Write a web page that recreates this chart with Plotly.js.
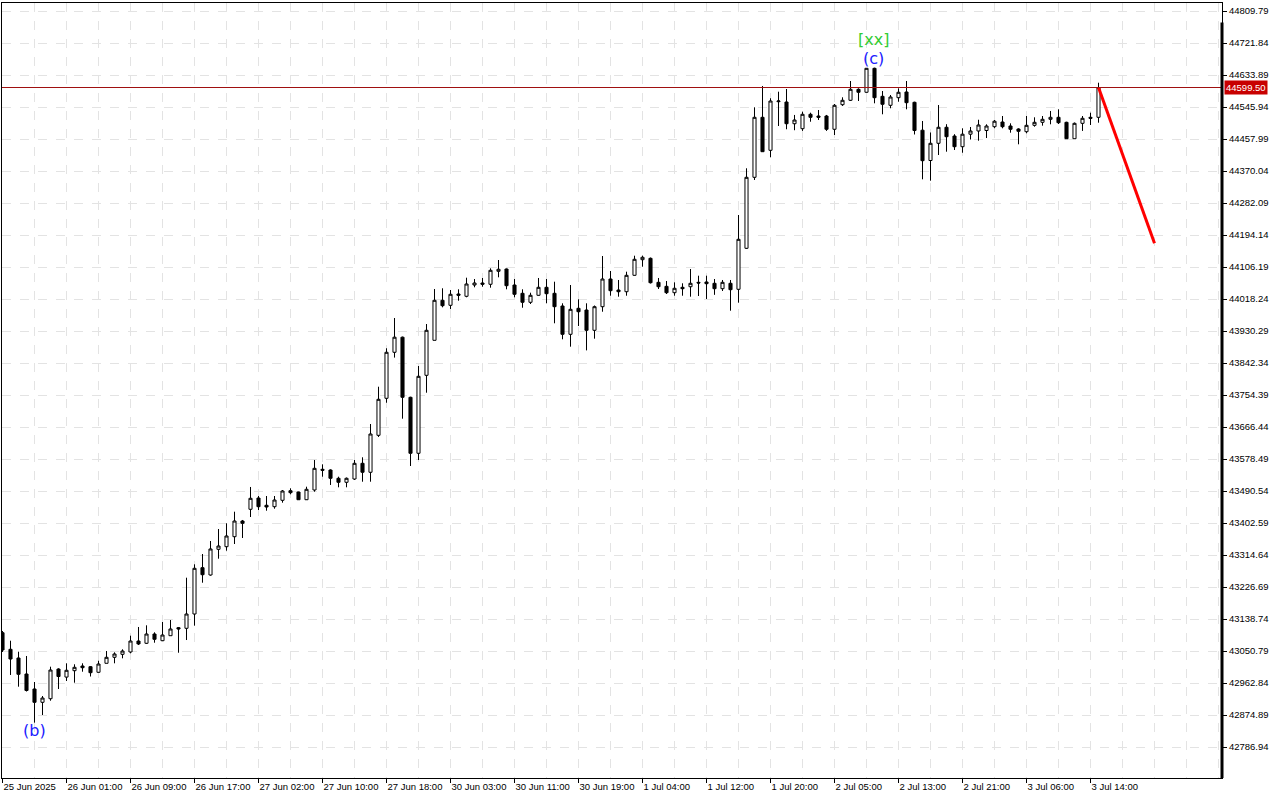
<!DOCTYPE html>
<html>
<head>
<meta charset="utf-8">
<script src="https://cdn.plot.ly/plotly-3.0.1.min.js"></script>
<style>
  html, body { margin: 0; padding: 0; background: #ffffff; }
  #chart { width: 1280px; height: 800px; }
</style>
</head>
<body>
<div id="chart"></div>
<script>
// Hourly candles, 25 Jun 2025 .. 3 Jul 2025 15:00
const open = [
  43101.1, 43055.5, 43031.6, 42987.6, 42946.4, 42909.8, 42919.7, 43001.3, 42979.1, 42996.7,
  43009.6, 43007.7, 42992.3, 43017.0, 43033.5, 43041.7, 43048.1, 43078.3, 43072.0, 43097.5,
  43079.1, 43092.9, 43114.9, 43113.2, 43152.5, 43279.8, 43259.7, 43330.3, 43337.5, 43365.0,
  43408.1, 43440.3, 43471.3, 43451.3, 43447.4, 43465.0, 43491.4, 43487.8, 43466.6, 43493.3,
  43550.2, 43548.3, 43525.5, 43514.5, 43523.5, 43566.7, 43542.0, 43643.6, 43745.3, 43871.8,
  43913.3, 43748.1, 43594.2, 43808.5, 43904.7, 44014.7, 44000.9, 44032.0, 44025.7, 44056.7,
  44062.2, 44058.7, 44094.4, 44100.7, 44056.7, 44033.9, 44009.2, 44028.4, 44050.4, 44033.9,
  43999.0, 43921.2, 43992.7, 43988.0, 43932.2, 43997.1, 44073.2, 44043.0, 44038.3, 44083.4,
  44126.3, 44130.1, 44064.1, 44053.1, 44035.6, 44050.4, 44052.0, 44064.1, 44065.0, 44061.4,
  44046.6, 44061.4, 44044.9, 44157.6, 44352.7, 44517.6, 44426.9, 44560.5, 44559.7, 44500.0,
  44486.3, 44525.9, 44521.2, 44521.2, 44484.7, 44552.3, 44564.4, 44594.6, 44586.4, 44652.3,
  44575.3, 44550.6, 44571.5, 44587.2, 44558.9, 44482.2, 44398.9, 44446.2, 44490.2, 44466.2,
  44436.8, 44471.2, 44480.0, 44481.4, 44491.8, 44504.7, 44493.7, 44485.5, 44478.1, 44495.6,
  44503.9, 44512.1, 44517.6, 44503.9, 44458.8, 44501.1, 44517.6, 44517.6
];
const high = [
  43105.8, 43079.1, 43048.9, 43037.1, 42965.6, 42927.1, 43007.7, 43003.3, 43017.0, 43014.3,
  43017.0, 43009.6, 43024.2, 43050.8, 43047.2, 43055.5, 43092.9, 43116.8, 43121.4, 43102.2,
  43130.5, 43136.0, 43116.8, 43252.3, 43289.1, 43317.4, 43353.1, 43386.1, 43401.8, 43433.7,
  43410.9, 43501.6, 43476.8, 43476.8, 43476.8, 43493.3, 43498.0, 43488.6, 43502.4, 43575.8,
  43563.9, 43550.2, 43529.9, 43527.7, 43575.8, 43583.2, 43674.7, 43777.2, 43882.8, 43966.0,
  43915.0, 43749.7, 43834.1, 43949.5, 44045.7, 44047.7, 44043.0, 44044.9, 44076.8, 44073.2,
  44076.0, 44102.6, 44125.4, 44102.0, 44073.2, 44044.9, 44035.6, 44076.0, 44073.2, 44065.8,
  44006.4, 44056.7, 44017.4, 44006.4, 44000.4, 44136.4, 44095.2, 44070.5, 44093.3, 44137.3,
  44137.3, 44132.3, 44076.0, 44067.7, 44064.1, 44061.4, 44100.7, 44082.3, 44082.3, 44073.2,
  44070.5, 44070.5, 44249.1, 44377.5, 44545.1, 44603.7, 44570.0, 44588.0, 44595.4, 44524.1,
  44533.0, 44530.3, 44537.7, 44524.1, 44554.2, 44572.6, 44617.4, 44597.3, 44653.1, 44654.0,
  44589.9, 44578.9, 44597.3, 44617.4, 44560.5, 44507.5, 44475.9, 44551.4, 44498.7, 44471.2,
  44487.4, 44491.0, 44511.0, 44498.4, 44510.2, 44521.2, 44501.1, 44487.4, 44521.2, 44517.6,
  44521.2, 44535.0, 44539.6, 44505.5, 44503.4, 44521.2, 44530.3, 44612.7
];
const low = [
  43048.1, 42984.9, 42952.7, 42939.5, 42853.8, 42874.9, 42914.2, 42946.4, 42968.4, 42963.7,
  42993.9, 42980.7, 42991.2, 43017.0, 43017.0, 43030.7, 43044.5, 43067.3, 43070.1, 43073.6,
  43078.3, 43092.9, 43046.1, 43081.0, 43120.4, 43238.5, 43257.8, 43304.5, 43326.5, 43344.9,
  43361.4, 43419.1, 43438.3, 43436.4, 43441.9, 43458.4, 43481.5, 43465.8, 43465.8, 43488.6,
  43529.9, 43507.1, 43500.7, 43500.7, 43520.8, 43516.1, 43516.1, 43639.0, 43733.2, 43857.2,
  43689.3, 43559.3, 43575.8, 43760.7, 43904.7, 43995.4, 43990.8, 44013.6, 44022.9, 44050.4,
  44052.0, 44049.3, 44077.9, 44044.9, 44022.9, 43994.3, 44004.5, 44027.3, 44006.4, 43951.5,
  43907.5, 43887.2, 43944.0, 43877.0, 43909.2, 43983.3, 44027.3, 44024.6, 44027.3, 44082.3,
  44107.0, 44060.8, 44045.7, 44032.0, 44027.3, 44027.3, 44024.6, 44026.5, 44018.3, 44029.7,
  44040.2, 43986.1, 44008.1, 44155.7, 44345.3, 44422.3, 44407.7, 44493.7, 44484.7, 44482.1,
  44480.2, 44505.5, 44510.2, 44480.2, 44469.0, 44548.8, 44562.4, 44562.4, 44585.3, 44556.1,
  44525.9, 44542.4, 44560.5, 44539.6, 44470.4, 44347.2, 44343.4, 44414.0, 44423.1, 44427.8,
  44420.3, 44456.6, 44453.3, 44460.7, 44487.4, 44487.4, 44475.3, 44443.4, 44473.7, 44491.8,
  44494.6, 44498.4, 44499.2, 44458.8, 44458.8, 44480.2, 44496.5, 44502.8
];
const close = [
  43053.6, 43028.8, 42986.8, 42942.3, 42909.8, 42921.6, 42998.6, 42980.7, 42997.8, 43006.0,
  43004.9, 42991.2, 43015.1, 43033.5, 43042.6, 43050.8, 43078.3, 43070.1, 43097.5, 43083.0,
  43094.8, 43111.3, 43111.3, 43152.5, 43278.1, 43260.5, 43331.2, 43339.4, 43366.9, 43408.1,
  43401.8, 43470.5, 43447.4, 43446.6, 43465.8, 43490.6, 43485.9, 43466.6, 43495.2, 43552.9,
  43547.5, 43525.5, 43514.5, 43525.5, 43566.7, 43542.0, 43647.2, 43742.6, 43871.8, 43913.3,
  43748.1, 43594.2, 43805.8, 43932.2, 44014.7, 43999.8, 44031.2, 44028.4, 44059.5, 44062.2,
  44058.7, 44097.1, 44099.9, 44054.8, 44031.2, 44009.2, 44028.4, 44050.4, 44032.8, 43997.1,
  43921.2, 43989.9, 43983.3, 43932.2, 43997.1, 44073.2, 44041.1, 44038.3, 44083.4, 44127.4,
  44132.9, 44063.0, 44052.0, 44035.6, 44047.7, 44046.6, 44061.4, 44062.2, 44060.3, 44046.6,
  44064.1, 44043.8, 44182.3, 44352.7, 44517.6, 44423.1, 44562.4, 44562.4, 44500.0, 44510.2,
  44525.9, 44517.6, 44517.6, 44484.7, 44550.6, 44564.4, 44594.6, 44586.4, 44652.3, 44571.5,
  44553.4, 44573.4, 44586.4, 44557.8, 44481.4, 44398.4, 44446.2, 44490.2, 44464.3, 44436.8,
  44471.2, 44480.0, 44496.5, 44493.7, 44506.9, 44491.8, 44484.7, 44479.2, 44495.6, 44503.9,
  44512.1, 44517.6, 44502.8, 44458.8, 44501.1, 44514.9, 44514.9, 44599.5
];

// Time-axis labels (bar index where each label sits)
const timeTickBars = [0, 8, 16, 24, 32, 40, 48, 56, 64, 72, 80, 88, 96, 104, 112, 120, 128, 136];
const timeTickLabels = [
  "25 Jun 2025", "26 Jun 01:00", "26 Jun 09:00", "26 Jun 17:00", "27 Jun 02:00", "27 Jun 10:00",
  "27 Jun 18:00", "30 Jun 03:00", "30 Jun 11:00", "30 Jun 19:00", "1 Jul 04:00", "1 Jul 12:00",
  "1 Jul 20:00", "2 Jul 05:00", "2 Jul 13:00", "2 Jul 21:00", "3 Jul 06:00", "3 Jul 14:00"
];

// Price-axis labels
const priceTicks = [
  42786.94, 42874.89, 42962.84, 43050.79, 43138.74, 43226.69, 43314.64, 43402.59,
  43490.54, 43578.49, 43666.44, 43754.39, 43842.34, 43930.29, 44018.24, 44106.19,
  44194.14, 44282.09, 44370.04, 44457.99, 44545.94, 44633.89, 44721.84, 44809.79
];

const lastPrice = 44599.50;

// Forecast line (red)
const forecastX = [137, 144];
const forecastY = [44599.5, 44171.4];

// Wave labels
const waveLabels = [
  { text: "(b)", bar: 4, price: 42831, color: "#2020ff" },
  { text: "(c)", bar: 108.85, price: 44677.9, color: "#2020ff" },
  { text: "[xx]", bar: 108.85, price: 44731.5, color: "#32cd32" }
];

const bars = open.map((_, i) => i);

const FONT = "Liberation Sans, Arial, sans-serif";

const traces = [
  {
    type: "candlestick",
    x: bars, open: open, high: high, low: low, close: close,
    increasing: { line: { color: "#000000", width: 1 }, fillcolor: "#ffffff" },
    decreasing: { line: { color: "#000000", width: 1 }, fillcolor: "#000000" },
    whiskerwidth: 0,
    hoverinfo: "none",
    showlegend: false
  },
  {
    type: "scatter", mode: "lines",
    x: forecastX, y: forecastY,
    line: { color: "#ff0000", width: 3 },
    hoverinfo: "none", showlegend: false
  }
];

const annotations = waveLabels.map(w => ({
  x: w.bar, y: w.price, xref: "x", yref: "y",
  text: w.text, showarrow: false,
  xanchor: "center", yanchor: "middle",
  font: { family: "DejaVu Sans, sans-serif", size: 16, color: w.color }
}));
annotations.push({
  x: 1, xref: "paper", xanchor: "left", xshift: 2,
  y: lastPrice, yref: "y", yanchor: "middle",
  text: lastPrice.toFixed(2), showarrow: false,
  bgcolor: "#c80000", borderpad: 1,
  font: { family: FONT, size: 9.5, color: "#ffffff" }
});

const layout = {
  width: 1280, height: 800,
  margin: { l: 2, r: 58, t: 3, b: 22, pad: 0 },
  paper_bgcolor: "#ffffff", plot_bgcolor: "#ffffff",
  showlegend: false,
  boxgap: 0.45,
  font: { family: FONT, size: 9.5, color: "#000000" },
  xaxis: {
    type: "linear",
    range: [-0.0625, 152.4375],
    autorange: false,
    rangeslider: { visible: false },
    tickmode: "array", tickvals: timeTickBars, ticktext: timeTickLabels,
    ticklabelposition: "outside right",
    ticks: "outside", ticklen: 4, tickcolor: "#000000", tickwidth: 1,
    showgrid: true, gridcolor: "#e3e3e3", griddash: "dash", gridwidth: 1,
    minor: { tickmode: "linear", tick0: 0, dtick: 4, showgrid: true, gridcolor: "#e3e3e3", griddash: "dash", ticks: "" },
    showline: true, linecolor: "#000000", linewidth: 1, mirror: true,
    zeroline: false, automargin: false, fixedrange: true,
    tickfont: { family: FONT, size: 9.5, color: "#000000" }
  },
  yaxis: {
    side: "right",
    range: [42701.77, 44831.78],
    autorange: false,
    tickmode: "array", tickvals: priceTicks, ticktext: priceTicks.map(v => v.toFixed(2)),
    ticks: "outside", ticklen: 4, tickcolor: "#000000", tickwidth: 1,
    showgrid: true, gridcolor: "#e3e3e3", griddash: "dash", gridwidth: 1,
    showline: true, linecolor: "#000000", linewidth: 1, mirror: true,
    zeroline: false, automargin: false, fixedrange: true,
    tickfont: { family: FONT, size: 9.5, color: "#000000" }
  },
  shapes: [
    { type: "line", xref: "paper", x0: 0, x1: 1, yref: "y", y0: lastPrice, y1: lastPrice,
      line: { color: "#a01010", width: 1 } },
    { type: "line", xref: "paper", x0: 1, x1: 1, yref: "paper", y0: 0, y1: 0.975,
      line: { color: "#000000", width: 3 } }
  ],
  annotations: annotations
};

Plotly.newPlot("chart", traces, layout, { staticPlot: true, displayModeBar: false });
</script>
</body>
</html>
